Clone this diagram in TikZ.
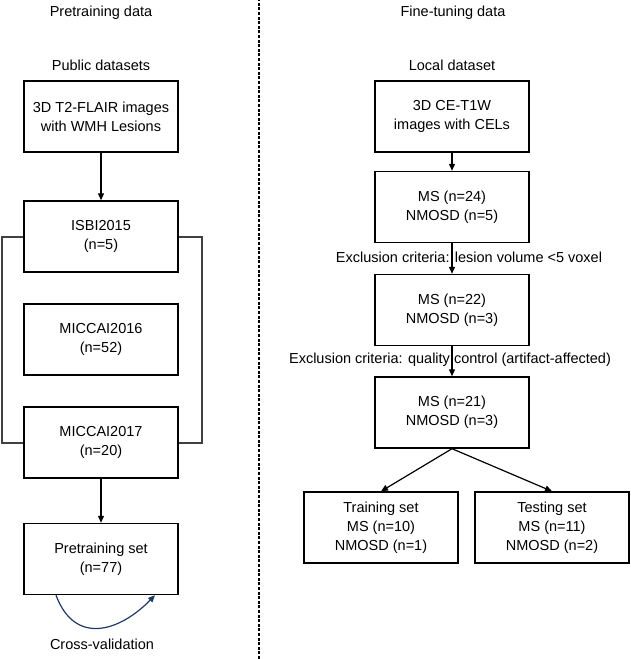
\documentclass[tikz,border=0pt]{standalone}
\usepackage{fontspec}
\setmainfont{Liberation Sans}
\usetikzlibrary{arrows.meta,calc}
\definecolor{cvblue}{RGB}{31,56,100}

\begin{document}
\begin{tikzpicture}[x=1pt,y=1pt,
  font=\fontsize{14.5}{19}\selectfont,
  box/.style={draw,line width=1.4pt,minimum width=154pt,minimum height=71pt,inner sep=0pt,align=center},
  lbl/.style={inner sep=0pt,align=center},
  arr/.style={line width=1.2pt,-{Triangle[length=7pt,width=6pt]}},
  brk/.style={line width=1.1pt,draw=black!75}]
\useasboundingbox (0,0) rectangle (631,659);
% pretraining side
\node[lbl] (pretitle) at (101,646) {Pretraining data};
\node[box] (flair) at (101,542.5) {3D T2-FLAIR images\\with WMH Lesions};
\node[lbl] (public) [above of=flair,node distance=51pt] {Public datasets};
\node[box] (isbi) [below of=flair,node distance=120pt] {ISBI2015\\(n=5)};
\node[box] (m16) [below of=isbi,node distance=103pt] {MICCAI2016\\(n=52)};
\node[box] (m17) [below of=m16,node distance=103pt] {MICCAI2017\\(n=20)};
\node[box] (pre) [below of=m17,node distance=116.5pt] {Pretraining set\\(n=77)};
\node[lbl] (cv) at (102,15) {Cross-validation};
\draw[arr] (flair) -- (isbi);
\draw[arr] (m17) -- (pre);
\draw[brk] (isbi.west |- 0,422) -- (2,422) -- (2,216) -- (m17.west |- 0,216);
\draw[brk] (isbi.east |- 0,422) -- (202,422) -- (202,216) -- (m17.east |- 0,216);
\draw[cvblue,line width=1.2pt,-{Triangle[length=7pt,width=6pt]}]
  ([xshift=-45pt]pre.south) .. controls +(19,-51) and +(-35,-36) .. ([xshift=54pt]pre.south);
% divider
\draw[line width=1.3pt,dash pattern=on 3pt off 1.6pt] (259,0) -- (259,659);
% fine-tuning side
\node[lbl] (finetitle) at (453,646) {Fine-tuning data};
\node[box] (ce) at (452,542.5) {3D CE-T1W\\images with CELs};
\node[lbl] (local) [above of=ce,node distance=51pt] {Local dataset};
\node[box] (ms24) [below of=ce,node distance=90.5pt] {MS (n=24)\\NMOSD (n=5)};
\node[box] (ms22) [below of=ms24,node distance=103pt] {MS (n=22)\\NMOSD (n=3)};
\node[box] (ms21) [below of=ms22,node distance=102.5pt] {MS (n=21)\\NMOSD (n=3)};
\node[box] (train) at (381,131.5) {Training set\\MS (n=10)\\NMOSD (n=1)};
\node[box] (test) at (552,131.5) {Testing set\\MS (n=11)\\NMOSD (n=2)};
\node[lbl] (excl1) at (469,402) {Exclusion criteria: lesion volume <5 voxel};
\node[lbl] (excl2) at (450,299) {Exclusion criteria: quality control (artifact-affected)};
\draw[arr] (ce) -- (ms24);
\draw[arr] (ms24) -- (ms22);
\draw[arr] (ms22) -- (ms21);
\draw[arr] (ms21.south) -- (train.north);
\draw[arr] (ms21.south) -- (test.north);
\end{tikzpicture}
\end{document}
